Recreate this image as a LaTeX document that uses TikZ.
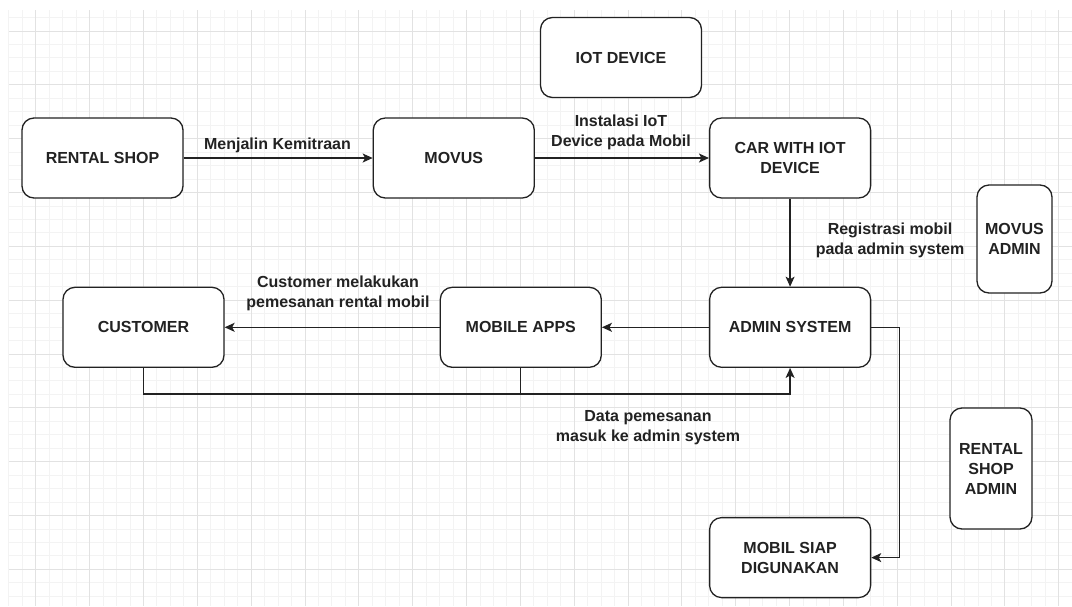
\documentclass[tikz,border=0pt]{standalone}
\usepackage{fontspec}
\setmainfont{Liberation Sans}
\usetikzlibrary{arrows.meta,positioning,calc}

\definecolor{gridminor}{HTML}{F3F3F3}
\definecolor{gridmajor}{HTML}{E2E2E2}
\definecolor{ink}{HTML}{222222}

\tikzset{
	box/.style={draw=ink, line width=1.3pt, rounded corners=12pt, fill=white,
		minimum width=161pt, minimum height=80pt, align=center, text=ink,
		font=\fontsize{16}{20}\selectfont\bfseries},
	tallbox/.style={box, minimum width=#1},
	lbl/.style={align=center, text=ink, font=\fontsize{16}{20}\selectfont\bfseries},
	arr/.style={draw=ink, line width=1.3pt, -{Stealth[length=10pt,width=9pt,inset=2.5pt]}},
	link/.style={draw=ink, line width=1.3pt},
}

\begin{document}
\begin{tikzpicture}[x=1pt,y=-1pt]
		\useasboundingbox (0,0) rectangle (1072,606);
		\fill[white] (0,0) rectangle (1072,606);
		% grid
		\foreach \k in {0,...,79}
			\draw[gridminor, line width=1pt] ({8.9+13.46*\k},10) -- ({8.9+13.46*\k},606);
		\foreach \k in {1,...,44}
			\draw[gridminor, line width=1pt] (9,{4.1+13.46*\k}) -- (1072,{4.1+13.46*\k});
		\foreach \k in {2,6,...,78}
			\draw[gridmajor, line width=1pt] ({8.9+13.46*\k},10) -- ({8.9+13.46*\k},606);
		\foreach \k in {2,6,...,42}
			\draw[gridmajor, line width=1pt] (9,{4.1+13.46*\k}) -- (1072,{4.1+13.46*\k});
		%
		\node[box] (rentalshop) at (102.5,158) {RENTAL SHOP};
		\node[box, right=189pt of rentalshop] (movus) {MOVUS};
		\node[box, right=174pt of movus] (car) {CAR WITH IOT\\DEVICE};
		\node[box] (iot) at (621,57.5) {IOT DEVICE};
		\node[box, below=88pt of car] (adminsys) {ADMIN SYSTEM};
		\node[box, left=107pt of adminsys] (mobileapps) {MOBILE APPS};
		\node[box, left=215pt of mobileapps] (customer) {CUSTOMER};
		\node[box, below=149pt of adminsys] (mobilsiap) {MOBIL SIAP\\DIGUNAKAN};
		\node[box, minimum width=75pt, minimum height=108pt] (movusadmin) at (1014.5,239) {MOVUS\\ADMIN};
		\node[box, minimum width=82pt, minimum height=121pt] (rsadmin) at (991,468.5) {RENTAL\\SHOP\\ADMIN};
		%
		\draw[arr] (rentalshop) -- (movus);
		\draw[arr] (movus) -- (car);
		\draw[arr] (car) -- (adminsys);
		\draw[arr] (adminsys) -- (mobileapps);
		\draw[arr] (mobileapps) -- (customer);
		\draw[arr] (customer.south) -- ++(0,26) -| (adminsys.south);
		\draw[link] (mobileapps.south) -- ++(0,26);
		\draw[arr] (adminsys.east) -- ++(28,0) |- (mobilsiap.east);
		%
		\node[lbl] (lkemitraan) at (277.5,145) {Menjalin Kemitraan};
		\node[lbl] (linstalasi) at (621,132) {Instalasi IoT\\Device pada Mobil};
		\node[lbl] (lregistrasi) at (890,240) {Registrasi mobil\\pada admin system};
		\node[lbl] (lpemesanan) at (338,293) {Customer melakukan\\pemesanan rental mobil};
		\node[lbl] (ldata) at (648,428) {Data pemesanan\\masuk ke admin system};
	\end{tikzpicture}
\end{document}
